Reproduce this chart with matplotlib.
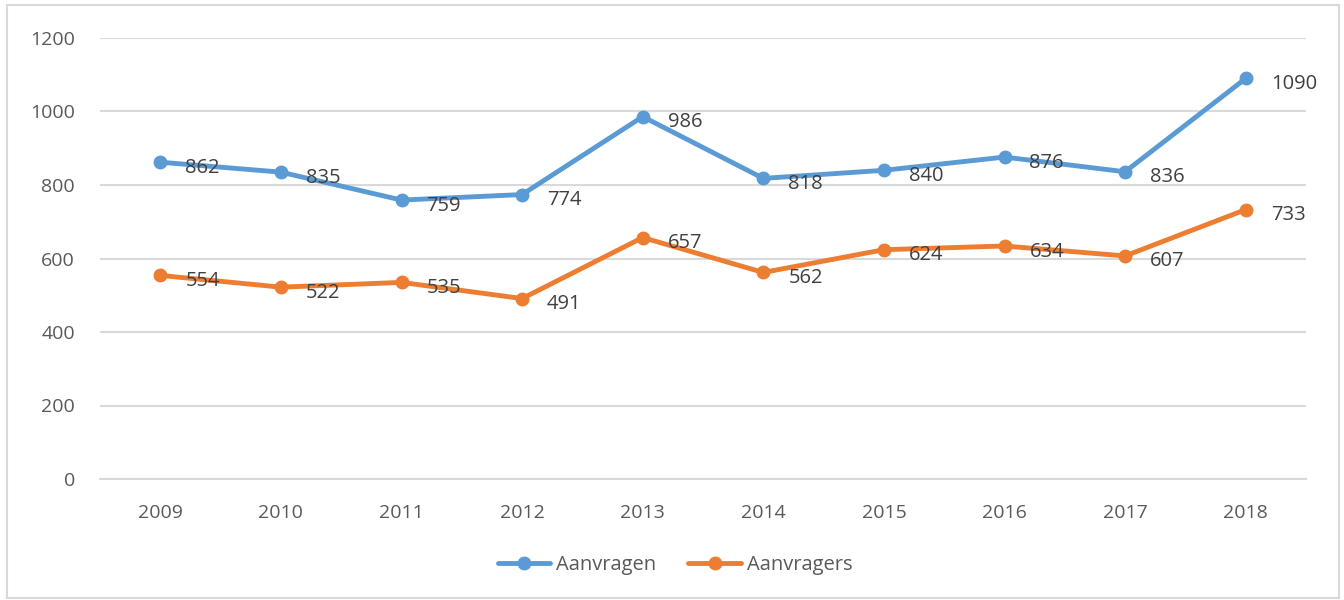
import matplotlib
matplotlib.use("Agg")
import matplotlib.pyplot as plt
from matplotlib.patches import Rectangle

years = ["2009", "2010", "2011", "2012", "2013", "2014", "2015", "2016", "2017", "2018"]
aanvragen = [862, 835, 759, 774, 986, 818, 840, 876, 836, 1090]
aanvragers = [554, 522, 535, 491, 657, 562, 624, 634, 607, 733]
yticks = [0, 200, 400, 600, 800, 1000, 1200]

plt.rcParams['font.family'] = ['Open Sans', 'DejaVu Sans']
txt = '#595959'
lbl = '#404040'

fig = plt.figure(figsize=(13.44, 6.0), dpi=100)
ax = fig.add_axes([100/1344, 1-479/600, (1306-100)/1344, (479-38)/600])

x = list(range(len(years)))
blue = '#5B9BD5'
orange = '#ED7D31'
ax.plot(x, aanvragen, color=blue, lw=3.5, marker='o', ms=9, label='Aanvragen', solid_capstyle='round', zorder=3)
ax.plot(x, aanvragers, color=orange, lw=3.5, marker='o', ms=9, label='Aanvragers', solid_capstyle='round', zorder=3)

for xi, v in zip(x, aanvragen):
    ax.annotate(str(v), (xi, v), xytext=(18, -4), textcoords='offset points',
                ha='left', va='center', fontsize=14.5, color=lbl)
for xi, v in zip(x, aanvragers):
    ax.annotate(str(v), (xi, v), xytext=(18, -4), textcoords='offset points',
                ha='left', va='center', fontsize=14.5, color=lbl)

ax.set_xlim(-0.5, len(years) - 0.5)
ax.set_ylim(0, 1200)
ax.set_yticks(yticks)
ax.set_yticklabels([str(t) for t in yticks])
ax.set_xticks(x)
ax.set_xticklabels(years)
ax.tick_params(axis='both', length=0, labelsize=14, labelcolor=txt)
ax.tick_params(axis='y', pad=18)
ax.tick_params(axis='x', pad=18)
ax.grid(axis='y', color='#D9D9D9', lw=1.5)
ax.set_axisbelow(True)
for s in ['top', 'right', 'left']:
    ax.spines[s].set_visible(False)
ax.spines['bottom'].set_color('#D9D9D9')
ax.spines['bottom'].set_linewidth(1.5)

leg = fig.legend(loc='center', bbox_to_anchor=(675/1344, 1-565/600), ncol=2, frameon=False,
                 fontsize=14.5, handlelength=2.6, columnspacing=1.6, handletextpad=0.3)
for t in leg.get_texts():
    t.set_color(txt)

fig.patches.append(Rectangle((7/1344, 2/600), (1339-7)/1344, (595-2)/600, transform=fig.transFigure,
                             fill=False, edgecolor='#D9D9D9', lw=1.5))

fig.savefig('out.png', dpi=100)
